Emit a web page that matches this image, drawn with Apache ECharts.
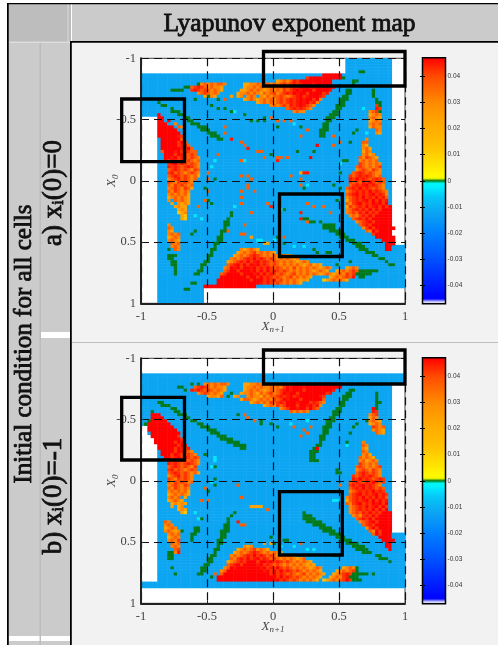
<!DOCTYPE html>
<html><head><meta charset="utf-8">
<style>html,body{margin:0;padding:0;background:#fff}#c{width:498px;height:645px}#c canvas{filter:blur(.4px)}</style>
<script src="https://cdn.jsdelivr.net/npm/echarts@6/dist/echarts.min.js"></script>
</head><body><div id="c"></div>
<script>
const axisTicks=[-1,-0.5,0,0.5,1];
const colorbarTicks=[-0.04,-0.03,-0.02,-0.01,0,0.01,0.02,0.03,0.04];
const gridSize=80;
const baseValue=-0.012;
const levels={R:0.047,r:0.045,s:0.042,o:0.037,a:0.031,y:0.024,Y:0.012,g:0,c:-0.003,k:-0.006};
const colorAnchors=[[-0.047,'#ffffff'],[-0.0463,'#ffffff'],[-0.0455,'#0000ff'],[-0.03,'#0050ff'],[-0.02,'#0080ff'],[-0.012,'#0ca5f2'],[-0.006,'#05c8f8'],[-0.0008,'#00ffff'],[0,'#007a1c'],[0.0008,'#ffff00'],[0.012,'#ffc400'],[0.022,'#ffa800'],[0.03,'#ff8a00'],[0.04,'#ff4a00'],[0.047,'#ff0000']];

// rows r0-r1, columns c0-c1 that carry data
const domainA=[[0,4,62,75],[5,18,0,75],[19,74,5,75],[61,74,76,79],[75,79,5,18]];
const domainB=[[5,7,0,79],[8,21,0,75],[22,24,2,75],[25,27,4,75],[28,56,5,75],[57,72,5,79],[73,74,0,79]];

// "row column cells"
const hotA=[
"5 55 RRRRRR","6 50 sRRRRRRRRRR","7 41 yaoaorsRRRRRRRRRR","8 31 yyaaoaooaoaososrsrRRRrRRRRR","9 31 yaaoaoaaoaoososrsRRRrRRRRRRR",
"10 30 yyaoaoayaoaoasosrRrRRRsRRRRr","11 29 yaaoaoayoaosaosrsRrRRsRRRRsr","12 27 y ya aoa ayoaoosoaosrRsrRRRrs","13 31 yaoayaoaoaososrsrRrRRsRa",
"14 35 yaoaoaososrsrRrRsra","15 39 aoaosorsrRrsoa","16 44 osrsrsoa","17 46 aoaa",
"8 18 aoaoaooa","9 15 osrsoaoaay","10 15 srsosoaoay","11 17 aosoaoa","12 19 yaay",
"18 5 R","19 5 RR","20 5 RR R","21 5 RRR  a","22 5 RRRRR oa","23 5 RRRRRR","24 5 RRRRRRR","25 5 RRRRRRrs","26 6 RRRRRRo","27 6 RRRRRsRo","28 6 RRRRRsrro","29 6 RRRRRRrsRo",
"30 6 oRRRrRsrsoo","31 7 RRRsRrsoso","32 7 RRrRsrsosoa","33 7 RsRrsrosoao","34 8 srRsrsosoa","35 8 rsrsosrsoa","36 8 osrsosoaso","37 8 srosoaosoa","38 8 osrsosoaoy","39 8 aosrosoao",
"40 8 soasosoa","41 8 oasosoao","42 8 aosoasoy","43 8 oasoaoa","44 8 aoaoaoy","45 8 yaoaoay","46 8 a oaoay","47 9 y ayay","48 10 yayy","49 11 yay","50 11 Yya","51 12 yY","52 12 yY",
"54 8 a","55 8 oa","56 8 ay","57 8 aoao","58 8 yaoa","59 8 aoay","60 9 oao","61 9 aoa","62 10 oa",
"15 71 sr","16 71 rs","17 69 aoso","18 69 yaoa","19 69 aoay","20 69 yaoa","21 69 aoao","22 69 yoaa","23 71 oa","24 71 ay",
"26 68 a","27 67 oa","28 67 ay","29 67 aoy","30 67 yoa","31 67 aoya","32 66 oasoay","33 66 aoaoao","34 66 soaoaoa","35 65 osoaoaos","36 65 aosoasoa","37 64 osrsosoaa","38 63 sosrsrsoao","39 63 rsRsrsosrso",
"40 63 srsorsRsoso","41 63 osrsrRsrsoa","42 62 osrsRsrsosoa","43 62 aosrsrsRsrsoa","44 62 osrRsrsrRsrsa","45 62 aosrsRsrsRsro","46 62 yosrsrRsRsRsr","47 62 oasrRsrsRrRsR","48 62 ysosrsRsrRsRsR","49 62 aosrsrsRsRsRRR",
"50 62 aosorsRsrsRRRR","51 63 aoasrsRsRRRRR","52 64 osrsRsRRRRRR","53 65 aosrRsRRRRR","54 66 osrsRRRRRR","55 67 asRsRRRRRR","56 68 oaRsRRRR","57 70 sRRRRR","58 71 RRRRRR","59 73 RRRR","60 74 RRR","61 74 RR","62 74 RR",
"62 30 ayaoay","63 29 yaoaosaoaoay","64 28 yaoaosrsoaoaoaoaya","65 27 aoaosrsRsrsosoaoaoaya","66 26 yaosrsRsrRsrsosoaoaoayaoa","67 26 osrRsRsRrRsrsosoaoaoaoayaoyay","68 25 aoRrRsRRrRsrsRsosoaoasaoaoaoayaoa","69 25 osRRsRRRrRsRsRsrsosoaoaoaoayaoay",
"70 24 osRRRRsRRRrRsRsrsosoaosaoaoaoayaoay","71 24 RRRRRRRRsRRsRsrsosoaosaoaoay","72 23 RRRRRRRRRRsRRRsrsrosaoaoayay","73 23 RRRRRRRRRRRRRrsrsosoaoaoay","74 19 RRRRRRRRRRRRRRRR",
"68 62 yaoa","69 59 yaoaosoa","70 58 yaoasosr","71 57 yaoaosor","72 55 Yyaoaoay"];
const ridgeA=[
"10 9 gggg","9 13 gg","8 17 g","14 5 g","15 6 gg","16 9 g","17 9 ggg","18 11 gg","19 13 gg","20 14 gg","21 15 ggg","22 17 ggg","23 18 ggg","24 20 ggg","25 21 ggg","26 23 gg",
"62 8 g","64 8 ggg","65 8 gg","66 9 gg","67 9 gg","68 10 g","69 10 g","70 10 g","10 70 g","11 70 g","12 70 g","13 71 g","14 71 gg","15 72 g","17 72 g",
"52 49 gg","53 50 ggg","53 54 g","54 55 gggg","55 55 gggg","56 57 gggg","57 59 ggg","58 60 ggg","59 62 ggg","60 64 ggg","61 65 ggg","62 66 ggg","63 68 ggg","64 70 gg","65 72 gg","66 74 g","67 75 gg",
"10 62 gg","11 62 gg","12 61 gg","13 60 ggg","14 60 gg","15 59 ggg","16 59 gg","17 58 gg","18 57 ggg","19 56 ggg","20 56 gg","21 55 gg","22 55 gg","23 54 ggg","24 54 gg","25 54 gg",
"50 27 g","51 27 g","52 26 g","53 25 gg","54 25 gg","55 25 g","56 24 gg","57 24 g","58 23 gg","59 23 gg","60 22 gg","61 22 g","62 21 gg","63 21 g","64 20 gg","65 20 g","66 19 gg","67 18 gg","68 18 g","69 17 gg","70 16 gg","73 15 gg","75 13 gg",
"69 66 gggggg","70 65 ggggg","71 66 gg"];
const specksA=[
"13 16 g","12 20 g","13 23 g","13 25 o","15 21 g","16 23 g","16 25 g","17 27 g","17 28 c","18 31 g","20 33 g","20 35 g","19 37 g","20 37 g","19 39 o","20 41 o","20 43 o","20 45 o","22 41 g","21 46 c","22 48 g","23 50 o","25 48 o",
"22 25 o","24 25 o","26 27 r","27 30 o","28 31 o","29 32 r","30 35 o","30 36 o","30 47 g","31 39 g","32 37 o","32 41 oo","33 41 r","32 44 o","32 51 R","28 53 R","30 52 g","33 30 oc","31 23 o","33 22 c","35 21 c","37 20 o","39 20 o","42 19 g","39 22 g","43 20 o","46 19 og","47 21 g","52 18 c","51 16 c","56 16 g","57 15 g","48 17 o",
"38 30 o","38 32 o","39 33 o","41 32 o","42 32 o","43 34 o","43 30 o","45 30 o","48 28 c","47 30 o","50 33 o","47 38 o","48 39 r","49 42 cg","38 45 o","37 48 yrr","39 48 o","41 48 o","42 49 g","41 50 c","47 50 o","48 52 o","48 55 o","50 57 o","46 59 g","50 48 r","52 48 r","53 50 o",
"37 60 g","33 61 gg","34 60 c","41 58 g","42 60 g","40 64 o","23 65 g","24 64 g","27 63 g","16 67 c","24 68 c","27 68 o","27 60 o","25 58 o","28 58 o",
"54 31 o","57 30 oo","56 26 o","58 33 y","59 35 cc","60 37 yy","59 40 c","58 41 g","58 43 o","60 43 g","61 46 c","61 49 c","62 52 g","63 53 g","63 56 gg","66 63 g","67 59 g","4 66 gg","6 61 g","7 64 gg","8 64 g"];

const hotB=[
"8 19 aoaoaooa","9 16 osrsoaoaay","10 15 rsrsosoaoay","11 17 aosoaoay","12 20 yaay",
"8 31 yyaaoaooaoaosaosrsrRRRrRRRRRRR","9 31 yaaoaoaaoaoasRrRRRrRRRRRRRRRRR","10 31 yaoaoayaoaosrRrRRRsRRRRRRRRr","11 30 yaaoayoaosaosRrRRsRRRRRRRRsr","12 28 ya  aoaayoaoosrsrRsrRRRRRRrs","13 30 yaoayaoaoasosRrRRRsRRRRRRo","14 33 yaoaoasosrsRRRrRRRsrsoa","15 37 yaoasosRRRsRRrRsra","16 42 aosRRrRRsRso","17 45 oaoaoa",
"17 3 R","18 3 RRR","19 3 RRRR","20 2 RRRRRR","21 2 RRRRRRR","22 2 RRRRRRRR","23 2 RRRRRRRRR","24 3 RRRRRRRRR","25 3 RRRRRRRRs","26 4 RRRRRRRRs","27 4 RRRRRRsRr","28 5 RRRRRRsRr","29 5 RRRRRsRrsr","30 6 RRRRsRrsoa",
"31 6 RRRsRrsosoa","32 7 RRsrRsrsoso","33 8 srRsrsosoa","34 8 rsrsosrsoa","35 8 osrsosoas","36 8 srosoaoso","37 8 osrsosoaoy","38 8 aosrosoa","39 8 soasosoa","40 8 oasosoao","41 8 aosoaso","42 8 oasoaoa","43 8 aoaoaoy","44 8 yaoaoay","45 8 aoao y","46 8 yaoay","47 9 yayay","48 9 y ya","49 11 yay","50 12 yY",
"53 7 oa","54 7 aoa","55 7 yaoa","56 7 aoaya","57 8 aoao","58 8 yaoa","59 8 aoas","60 9 oao","61 9 aoa","62 10 os","63 10 ar",
"16 70 R","17 70 rs","18 69 aos","19 69 yoa","20 69 aoay","21 69 yaoa","22 70 soao","23 70 aoay","24 71 oay",
"27 67 a","28 67 oa","29 67 ay","30 67 oa","31 67 aoy","32 66 oaoay","33 66 aoyaoa","34 66 soaoao","35 65 osoaoaos","36 65 aosoasoa","37 65 osrsosoa","38 64 sosrsrsoa","39 64 rsRsrsosrs",
"40 63 osrsorsRsos","41 63 srsrRsrsoa","42 63 osrsRsrsoso","43 63 aosrsrsRsrs","44 63 osrRsrsrRsrs","45 62 aosrsRsrsRsro","46 62 yosrsrRsRsRsr","47 62 oasrRsrsRrRsR","48 63 aosrsRsrRsRs","49 63 aosrsrsRsRsR",
"50 63 aosorsRsrsRRR","51 64 aoasrsRsRRRR","52 65 osrsRsRRRRR","53 66 aosrRsRRRR","54 67 osrsRRRRR","55 68 asRsRRRR","56 69 oaRsRRR","57 70 oRsRRR","58 72 RRRR","59 73 RRRR","60 74 RR","61 74 RR","62 75 R",
"61 31 aya","62 29 yaoaosaoay","63 28 yaoaosrsoaoaoay","64 27 aoaosrsRsrsosoaoaoay","65 27 oasrsRsrRsrsosoaoaoayay","66 26 yaosrsRRRsRRrRsrsosoaoaoay","67 26 osrRsRRRRrRsrsosoaoaoaoayay","68 25 aoRrRRRRRRRrRsrsRsosoaoaoayaoa","69 24 aoRRRRRRRRRRRrRsRsRsrsosoaoaoay","70 24 oRRRRRRRRRRRRRRsRsrsosoaosaoaoay","71 23 RRRRRRRRRRRRRRRRRRsRsrsosoaoaoay","72 23 RRRRRRRRRRRRRRRRRrRsrsosoaoaoay",
"68 61 yaoay","69 59 yaoaos","70 58 yaosrs","71 57 yaoasrs","72 55 YyaoaosRs"];
const ridgeB=[
"14 5 gg","15 6 ggg","16 9 gg","17 10 gg","18 11 ggg","19 13 gg","20 15 gg","21 17 gg","22 18 ggg","23 20 ggg","24 21 ggg","25 23 ggg","26 24 gggg","27 26 gggg","28 28 gggg","29 30 gg",
"10 63 gg","11 62 gg","12 61 ggg","13 61 gg","14 60 gg","15 60 gg","16 59 gg","17 58 ggg","18 58 gg","19 57 gg","20 56 ggg","21 56 gg","22 55 ggg","23 55 gg","24 55 gg","25 54 gg","26 54 gg","27 54 g","28 53 gg","29 52 gg","30 51 ggg","31 51 gg","32 51 gg","33 51 ggg",
"11 71 g","12 71 g","13 71 g","14 71 gg","15 71 g","16 71 g",
"50 28 g","51 27 g","52 26 g","53 26 g","54 25 gg","55 25 gg","56 24 ggg","57 24 gg","58 24 gg","59 23 gg","60 23 gg","61 23 g","62 22 gg","63 22 g","64 21 gg","65 20 gg","66 20 gg","67 19 gg","68 18 gg","69 18 gg","70 17 gg",
"50 49 g","51 49 ggg","52 49 gggg","53 50 ggggg","54 52 gggg","55 54 gggg","56 55 gggg","57 57 gggg","58 59 ggg","59 60 gggg","60 62 gggg","61 64 gggg","62 65 gggg","63 67 ggg","64 71 gg","65 72 ggg","66 75 g",
"63 8 gg","64 8 gg","65 8 gg","68 9 g","70 10 g","69 65 g","70 64 ggggg","71 63 ggg","72 64 ggg"];
const specksB=[
"12 26 g","11 27 g","12 24 o","13 31 o","18 29 g","18 31 o","19 32 o","20 34 o","20 36 g","21 36 g","21 39 g","22 41 g","21 45 c","22 46 o","23 49 o","22 51 o","25 48 o","24 50 o","20 50 c",
"41 29 o","45 30 o","48 33 yyyy","49 38 o","54 30 oo","58 39 g","60 37 y","60 39 yg","59 43 gg","61 42 c","61 46 c","60 48 o","62 50 c","62 52 c","64 58 gg","65 49 o",
"36 59 g","37 59 gg","41 60 o","46 58 cc","43 59 o","21 65 g","24 63 g","27 62 g","28 62 c","68 65 g","70 70 g","22 64 g","20 68 g",
"9 11 gg","10 13 g","8 15 g","8 17 g","20 2 g","21 1 g","17 3 g","16 9 g","71 21 g","70 22 o",
"55 16 gg","56 16 gg","57 15 gg","58 15 g","59 15 g","56 12 g","31 19 g","35 22 g","32 22 c","33 22 c","35 21 c","40 21 c","39 22 g","41 22 g","43 20 g","42 19 o","46 18 o","46 20 o","52 17 c","52 18 g","50 16 c","53 29 r","29 53 R"];

const rowLabels=[...Array(gridSize).keys()];

function buildCells(domain,layers){
  const m=new Map();
  domain.forEach(([r0,r1,c0,c1])=>{for(let r=r0;r<=r1;r++)for(let c=c0;c<=c1;c++)m.set(r*gridSize+c,baseValue);});
  layers.forEach(l=>l.forEach(s=>{
    const p=s.match(/^(\d+) (\d+) (.*)$/),r=+p[1],c=+p[2];
    [...p[3]].forEach((ch,i)=>{if(ch!==' ')m.set(r*gridSize+c+i,levels[ch]);});
  }));
  const out=[];
  m.forEach((v,k)=>out.push([k%gridSize,Math.floor(k/gridSize),v]));
  return out;
}
function hex(h){return [1,3,5].map(i=>parseInt(h.substr(i,2),16));}
function palette(n){
  const out=[],lo=colorAnchors[0][0],hi=colorAnchors[colorAnchors.length-1][0];
  for(let i=0;i<n;i++){
    const v=lo+(hi-lo)*i/(n-1);
    let k=0;while(k<colorAnchors.length-2&&v>colorAnchors[k+1][0])k++;
    const a=colorAnchors[k],b=colorAnchors[k+1],t=Math.min(1,Math.max(0,(v-a[0])/(b[0]-a[0])));
    const ca=hex(a[1]),cb=hex(b[1]);
    out.push('rgb('+ca.map((x,j)=>Math.round(x+(cb[j]-x)*t)).join(',')+')');
  }
  return out;
}
const colors=palette(129);
const plots=[{top:58.3,cells:buildCells(domainA,[hotA,ridgeA,specksA])},{top:358.3,cells:buildCells(domainB,[hotB,ridgeB,specksB])}];
const plotLeft=141,plotW=264,plotH=245,barLeft=422.5,barW=23,barH=246;
const serif='"Liberation Serif",serif';

const grids=[],xAxes=[],yAxes=[],series=[],maps=[];
const nameRich={i:{fontFamily:serif,fontStyle:'italic',fontSize:13,color:'#444'},s:{fontFamily:serif,fontStyle:'italic',fontSize:9,color:'#444',padding:[7,0,0,0]}};
plots.forEach((p,i)=>{
  grids.push({left:plotLeft,top:p.top,width:plotW,height:plotH,show:true,backgroundColor:'#fff',borderColor:'#444',borderWidth:1});
  const sx=xAxes.length,sy=yAxes.length;
  const hid={type:'category',data:rowLabels,gridIndex:i,show:false};
  xAxes.push(hid);yAxes.push({...hid,inverse:true});
  const vis={type:'value',min:-1,max:1,interval:0.5,gridIndex:i,z:5,
    axisLine:{show:true,onZero:false,lineStyle:{color:'#222',width:2}},
    axisTick:{show:true,inside:true,length:3,lineStyle:{color:'#222',width:1}},
    splitLine:{show:true,showMinLine:true,showMaxLine:true,lineStyle:{color:'#111',width:1.2,type:[8,5]}}};
  const lab=m=>({fontFamily:serif,fontSize:12.5,color:'#444',margin:m,formatter:v=>String(v),showMinLabel:true,showMaxLabel:true,customValues:axisTicks});
  xAxes.push({...vis,position:'bottom',axisLabel:lab(7),name:'{i|X}{s|n+1}',nameLocation:'middle',nameGap:15,nameMoveOverlap:false,nameTextStyle:{rich:nameRich}});
  yAxes.push({...vis,position:'left',inverse:true,axisLabel:lab(5),name:'{i|X}{s|0}',nameLocation:'middle',nameGap:21,nameMoveOverlap:false,nameTextStyle:{rich:nameRich}});
  series.push({type:'heatmap',xAxisIndex:sx,yAxisIndex:sy,data:p.cells,progressive:0,animation:false,silent:true,itemStyle:{borderWidth:0}});
  maps.push({type:'continuous',seriesIndex:i,dimension:2,min:-0.047,max:0.047,left:barLeft,top:p.top-0.5,itemWidth:barW,itemHeight:barH,padding:0,
    calculable:false,realtime:false,hoverLink:false,text:null,inRange:{color:colors},z:3});
});
plots.forEach((p,i)=>{
  const g=grids.length;
  grids.push({left:barLeft,top:p.top-0.5,width:barW,height:barH,show:true,backgroundColor:'transparent',borderColor:'#000',borderWidth:1.5,z:6});
  xAxes.push({type:'value',min:0,max:1,gridIndex:g,show:false});
  const tick={show:true,inside:true,length:2.5,lineStyle:{color:'#000',width:1},customValues:colorbarTicks};
  yAxes.push({type:'value',min:-0.047,max:0.047,gridIndex:g,position:'right',z:6,axisLine:{show:false},splitLine:{show:false},axisTick:tick,
    axisLabel:{customValues:colorbarTicks,fontFamily:'"Liberation Sans",sans-serif',fontSize:6.5,color:'#333',margin:2,formatter:v=>String(v)}});
  yAxes.push({type:'value',min:-0.047,max:0.047,gridIndex:g,position:'left',z:6,axisLine:{show:false},splitLine:{show:false},axisTick:tick,axisLabel:{show:false}});
});

const rect=(x,y,w,h,fill,z)=>({type:'rect',shape:{x,y,width:w,height:h},style:{fill},z:z===undefined?-5:z,silent:true});
const box=(x0,y0,x1,y1)=>({type:'rect',shape:{x:x0,y:y0,width:x1-x0,height:y1-y0},style:{fill:'none',stroke:'#000',lineWidth:3.3},z:50,silent:true});
const heavy={fill:'#111',stroke:'#111',lineWidth:0.8};
const vtext=(x,y,text,size,rich)=>({type:'text',x,y,rotation:Math.PI/2,z:50,silent:true,style:{text,align:'center',verticalAlign:'middle',fontFamily:serif,fontSize:size,rich,...heavy}});
const subRich={n:{fontFamily:serif,fontSize:27,...heavy},s:{fontFamily:serif,fontSize:16,...heavy,padding:[10,0,0,0]}};
const graphics=[
  rect(72,42,426,603,'#f2f2f2'),
  rect(72,342,426,1,'#bdbdbd',-4),
  rect(72,4,426,37,'#cbcbcb'),
  rect(9,4,62,38,'#bdbdbd'),
  rect(9,42,31,603,'#cbcbcb'),
  rect(41,42,29,603,'#cbcbcb'),
  rect(39.5,42,1.5,603,'#bcbcbc',-4),
  rect(9,41.5,62,1.5,'#dcdcdc',-4),
  rect(67.5,4,1,38,'#dcdcdc',-4),
  rect(41,332,29,6,'#ffffff',-4),
  rect(9,636,30.5,5,'#ffffff',-4),
  rect(41,636,29,5,'#ffffff',-4),
  rect(7,3,491,1.3,'#000',-3),
  rect(7,3,1.8,642,'#000',-3),
  rect(70,41,428,1.8,'#000',-3),
  rect(70,41,1.8,604,'#000',-3),
  box(263.5,51.5,405,86),box(121.7,99,184.5,161.7),box(279.5,194,342.3,256.5),
  box(263.5,350,405,384),box(121.7,397.3,184.5,460),box(279.5,491.7,342.3,555),
  {type:'text',x:289.5,y:24,z:50,silent:true,style:{text:'Lyapunov exponent map',align:'center',verticalAlign:'middle',fontFamily:serif,fontSize:25.5,...heavy}},
  vtext(24,344,'Initial condition for all cells',25),
  vtext(54,193,'{n|a) x}{s|i}{n|(0)=0}',27,subRich),
  vtext(54,496,'{n|b) x}{s|i}{n|(0)=-1}',27,subRich)
];
const chart=echarts.init(document.getElementById('c'),null,{renderer:'canvas'});
chart.setOption({animation:false,backgroundColor:'#fff',grid:grids,xAxis:xAxes,yAxis:yAxes,series,visualMap:maps,graphic:{elements:graphics},tooltip:{show:false}});
</script></body></html>
